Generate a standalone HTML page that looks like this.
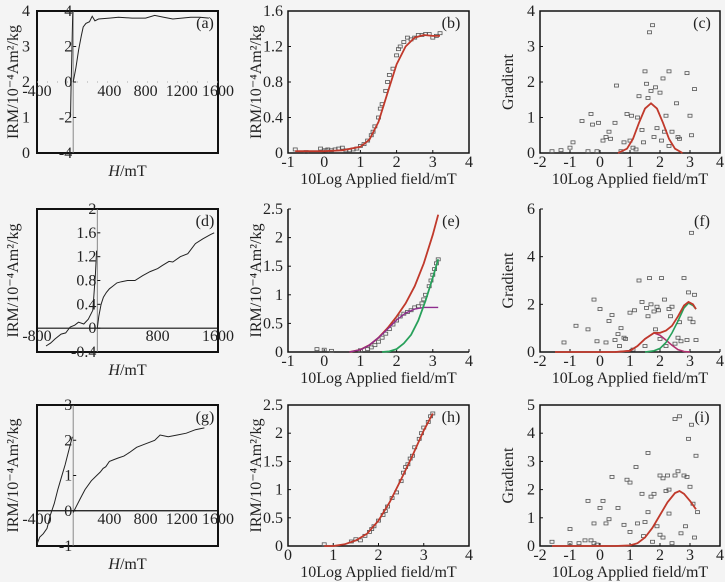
<!DOCTYPE html>
<html><head><meta charset="utf-8">
<style>
body{margin:0;background:#f4f4f4;}
svg{display:block;font-family:"Liberation Serif",serif;}
</style></head>
<body>
<svg id="fig" width="725" height="582" viewBox="0 0 725 582">
<rect width="725" height="582" fill="#f4f4f4"/>
</svg>
<script>
// ---- Panel (a) data ----
const aNegH=[-30,-24,-17,-10,-4];
const aNegM=[-2,-0.5,1.2,2.8,4];
const aPosH=[0,30,60,90,110,140,180,210,240,280,400,500,650,800,900,1000,1100,1200,1300,1400,1500];
const aPosM=[0,0.8,1.8,2.6,3.1,3.3,3.4,3.7,3.45,3.55,3.6,3.65,3.6,3.6,3.75,3.65,3.55,3.6,3.65,3.65,3.6];
const aXTicks=[-400,400,800,1200,1600];
const aYOuter=[0,1,2,3,4];
const aYInner=[-4,-2,0,2,4];
// ---- Panel (d) data ----
const dNegH=[-680,-620,-560,-480,-420,-360,-300,-250,-180,-120,-60,-25,-10];
const dNegM=[-0.3,-0.25,-0.18,-0.1,-0.08,0.02,0.05,0.1,0.07,0.15,0.3,0.9,1.3];
const dPosH=[0,20,50,80,120,160,200,260,320,400,500,600,700,800,860,950,1000,1100,1200,1300,1400,1500,1550];
const dPosM=[0,0.2,0.4,0.52,0.6,0.66,0.7,0.76,0.78,0.8,0.8,0.88,0.95,1.0,1.05,1.12,1.11,1.2,1.25,1.42,1.5,1.57,1.6];
const dXTicks=[-800,800,1600];
const dYInner=[-0.4,0,0.4,0.8,1.2,1.6,2];
// ---- Panel (g) data ----
const gNegH=[-400,-370,-330,-290,-250,-210,-170,-130,-90,-50,-10];
const gNegM=[-0.95,-0.75,-0.65,-0.5,-0.1,0.2,0.6,0.95,1.3,1.7,2.1];
const gPosH=[0,30,80,130,200,260,300,330,360,400,450,500,560,620,700,800,900,960,1050,1150,1250,1350,1450];
const gPosM=[-0.05,0.1,0.35,0.6,0.85,1.0,1.1,1.2,1.25,1.4,1.45,1.5,1.55,1.65,1.8,1.9,2.0,2.15,2.1,2.15,2.2,2.3,2.35];
const gXTicks=[-400,400,800,1200,1600];
const gYInner=[-1,0,1,2,3];
// ---- Panel (b) ----
const bPtX=[-0.8,-0.5,-0.1,0,0.05,0.1,0.2,0.3,0.4,0.5,0.6,0.7,0.8,0.9,1.0,1.1,1.2,1.3,1.35,1.4,1.5,1.55,1.6,1.7,1.75,1.8,1.9,2.0,2.05,2.1,2.2,2.3,2.4,2.5,2.6,2.7,2.8,2.9,3.0,3.1,3.2];
const bPtY=[0.04,0.01,0.05,0.03,0.03,0.04,0.03,0.04,0.05,0.06,0.03,0.03,0.04,0.05,0.08,0.1,0.14,0.2,0.24,0.3,0.4,0.5,0.55,0.7,0.8,0.88,0.95,1.1,1.17,1.2,1.25,1.3,1.28,1.3,1.33,1.33,1.34,1.34,1.3,1.32,1.35];
const bCurveX=[-0.8,0,0.5,1,1.25,1.5,1.75,2,2.25,2.5,2.75,3,3.2];
const bCurveY=[0.02,0.02,0.03,0.07,0.15,0.35,0.68,1.0,1.2,1.3,1.33,1.32,1.32];
const bYTicks=[0,0.4,0.8,1.2,1.6];
const logXTicks=[-1,0,1,2,3,4];
// ---- Panel (c) ----
const cPtX=[-1.6,-1.3,-1.0,-0.9,-0.6,-0.4,-0.3,-0.25,-0.1,-0.05,0.1,0.2,0.3,0.35,0.5,0.55,0.7,0.8,0.9,1.0,1.05,1.1,1.2,1.25,1.3,1.4,1.45,1.5,1.55,1.6,1.65,1.7,1.75,1.8,1.85,1.9,2.0,2.05,2.1,2.15,2.2,2.3,2.3,2.4,2.55,2.6,2.65,2.9,3.0,3.05,3.15];
const cPtY=[0.05,0.08,0.15,0.3,0.9,0.05,1.1,0.8,0.05,0.85,0.35,0.45,0.6,0.4,0.85,1.9,0.05,0.3,1.1,0.35,1.05,0.15,0.1,1.0,1.6,0.65,0.3,2.3,1.95,1.55,3.4,1.75,3.6,0.45,1.85,0.7,1.7,0.35,2.1,0.6,1.05,2.3,0.2,0.6,1.4,0.45,0.4,2.25,1.05,0.5,1.8];
const cCurveX=[0.6,0.9,1.1,1.3,1.5,1.7,1.9,2.1,2.3,2.5,2.75];
const cCurveY=[0,0.12,0.4,0.85,1.25,1.4,1.25,0.85,0.4,0.12,0];
const cYTicks=[0,1,2,3,4];
const gradXTicks=[-2,-1,0,1,2,3,4];
// ---- Panel (e) ----
const ePtX=[-0.2,0,0.2,1.0,1.2,1.3,1.4,1.5,1.6,1.7,1.8,1.9,2.0,2.1,2.2,2.3,2.4,2.5,2.6,2.7,2.75,2.8,2.9,2.95,3.0,3.05,3.1,3.15];
const ePtY=[0.05,0.04,0.02,0.03,0.05,0.08,0.12,0.18,0.25,0.32,0.4,0.48,0.55,0.62,0.67,0.7,0.73,0.78,0.8,0.85,0.92,1.0,1.15,1.25,1.35,1.45,1.55,1.62];
const eRedX=[0.7,1,1.25,1.5,1.75,2,2.25,2.5,2.75,3,3.15];
const eRedY=[0,0.04,0.12,0.25,0.42,0.62,0.85,1.15,1.55,2.05,2.4];
const ePurX=[0.7,1,1.25,1.5,1.75,2,2.25,2.5,2.75,3,3.15];
const ePurY=[0,0.04,0.12,0.25,0.4,0.56,0.68,0.75,0.78,0.78,0.78];
const eGrnX=[1.6,1.8,2,2.2,2.4,2.6,2.8,3,3.15];
const eGrnY=[0,0.01,0.05,0.15,0.3,0.55,0.9,1.3,1.62];
const eYTicks=[0,0.5,1,1.5,2,2.5];
// ---- Panel (f) ----
const fPtX=[-1.2,-0.8,-0.4,-0.2,-0.1,0,0.2,0.3,0.4,0.5,0.6,0.65,0.7,0.8,0.85,1.0,1.1,1.15,1.3,1.4,1.5,1.55,1.6,1.65,1.7,1.8,1.85,1.9,1.95,2.0,2.05,2.15,2.2,2.3,2.35,2.4,2.5,2.6,2.65,2.7,2.8,2.9,2.95,3.0,3.05,3.1,3.15,3.2];
const fPtY=[0.4,1.1,0.95,2.2,0.45,1.8,0.4,1.3,1.55,0.5,0.75,0.25,1.0,0.6,0.55,1.65,0.1,1.75,3.0,2.1,0.25,1.85,1.5,3.1,2.0,1.7,0.95,1.9,1.75,0.55,3.1,2.2,0.25,1.8,1.5,1.9,0.35,0.6,1.25,0.45,3.1,0.5,2.5,1.4,5.0,1.25,2.4,0.5];
const fRedX=[-1.5,0.5,1,1.25,1.5,1.8,2,2.2,2.4,2.6,2.8,2.95,3.1,3.2];
const fRedY=[0,0,0.05,0.25,0.55,0.8,0.8,0.9,1.1,1.5,1.95,2.1,2.0,1.8];
const fPurX=[0.5,1,1.25,1.5,1.8,2,2.2,2.4,2.6,2.8,3.0];
const fPurY=[0,0.05,0.25,0.55,0.8,0.7,0.5,0.28,0.1,0.02,0];
const fGrnX=[1.5,1.8,2,2.2,2.4,2.6,2.8,2.95,3.1,3.2];
const fGrnY=[0,0.05,0.15,0.4,0.8,1.3,1.85,2.05,1.95,1.8];
const fYTicks=[0,2,4,6];
// ---- Panel (h) ----
const hPtX=[0.8,1.4,1.5,1.6,1.7,1.8,1.85,1.9,2.0,2.1,2.15,2.2,2.3,2.4,2.5,2.55,2.6,2.65,2.7,2.75,2.8,2.9,2.95,3.0,3.1,3.15,3.2];
const hPtY=[0.03,0.08,0.12,0.1,0.18,0.25,0.3,0.35,0.45,0.55,0.62,0.7,0.85,0.95,1.15,1.3,1.4,1.45,1.55,1.6,1.75,1.9,2.0,2.1,2.2,2.3,2.35];
const hCurveX=[0.8,1,1.25,1.5,1.75,2,2.25,2.5,2.75,3,3.2];
const hCurveY=[0,0,0.03,0.1,0.22,0.45,0.78,1.18,1.6,2.05,2.35];
const hYTicks=[0,0.5,1,1.5,2,2.5];
const hXTicks=[0,1,2,3,4];
// ---- Panel (i) ----
const iPtX=[-1.6,-1.0,-1.0,-0.7,-0.5,-0.4,-0.3,-0.2,-0.1,0,0.1,-0.2,0.2,0.3,0.4,0.6,0.8,0.9,1.0,1.0,1.2,1.25,1.4,1.45,1.5,1.6,1.6,1.7,1.75,1.8,1.9,2.0,2.0,2.1,2.1,2.2,2.25,2.3,2.3,2.4,2.5,2.5,2.6,2.65,2.7,2.8,2.85,2.9,2.95,3.0,3.05,3.1,3.15,3.2,3.25];
const iPtY=[0.15,0.6,0.1,0.1,0.2,1.6,0.2,0.1,0.05,1.35,1.6,0.8,0.8,0.95,2.45,1.35,0.75,2.35,0.5,2.25,2.8,0.8,1.85,0.35,0.85,3.3,1.2,1.75,0.15,1.85,0.7,2.5,0.4,2.4,0.3,1.95,2.5,2.0,1.15,0.1,2.5,4.5,2.65,4.6,0.45,2.5,0.7,2.45,3.8,2.1,4.3,1.5,0.3,3.2,1.2];
const iCurveX=[-1.6,0.5,1,1.25,1.5,1.75,2,2.25,2.5,2.65,2.8,3,3.2];
const iCurveY=[0,0,0.02,0.1,0.3,0.65,1.1,1.55,1.88,1.95,1.85,1.6,1.3];
const iYTicks=[0,1,2,3,4,5];

const NS='http://www.w3.org/2000/svg';
const svg=document.getElementById('fig');
function mk(tag,attrs,parent){const e=document.createElementNS(NS,tag);for(const k in attrs)e.setAttribute(k,attrs[k]);(parent||svg).appendChild(e);return e;}
function txt(s,x,y,anchor,size,parent){const t=mk('text',{x:x,y:y,'text-anchor':anchor||'middle','font-size':size||15,fill:'#222'},parent);t.textContent=s;return t;}
function scale(d0,d1,r0,r1){return v=>r0+(v-d0)*(r1-r0)/(d1-d0);}
function line(g,X,Y,sx,sy,color,w,name){
  const p=mk('polyline',{points:X.map((v,i)=>sx(v).toFixed(1)+','+sy(Y[i]).toFixed(1)).join(' '),fill:'none',stroke:color,'stroke-width':w},g);
  
  
}
function pts(g,X,Y,sx,sy,name){
  const pg=mk('g',{},g);
  
  
  X.forEach((v,i)=>{const r=mk('rect',{x:sx(v)-2,y:sy(Y[i])-1.5,width:4,height:3,fill:'none',stroke:'#555','stroke-width':0.8},pg);
    
    });
}
const COL=[[37,218],[288,469],[540,720]];
const ROW=[[11,153],[209,352],[405,546]];

function logPanel(name,c,r,xd,yd,xt,yt,ytitle,letter,box){
  const g=mk('g',{});
  
  
  const [x0,x1]=COL[c],[y0,y1]=ROW[r];
  const sx=scale(xd[0],xd[1],x0,x1),sy=scale(yd[0],yd[1],y1,y0);
  if(box){mk('rect',{x:x0,y:y0,width:x1-x0,height:y1-y0,fill:'none',stroke:'#111','stroke-width':1.5},g);}
  else{mk('polyline',{points:`${x0},${y0} ${x0},${y1} ${x1},${y1}`,fill:'none',stroke:'#111','stroke-width':1.5},g);}
  xt.forEach(v=>{mk('line',{x1:sx(v),x2:sx(v),y1:y1,y2:y1-3,stroke:'#111'},g);txt(String(v),sx(v),y1+14,'middle',16,g);});
  yt.forEach(v=>{mk('line',{x1:x0,x2:x0+3,y1:sy(v),y2:sy(v),stroke:'#111'},g);txt(String(v),x0-5,sy(v)+5,'end',16,g);});
  const xtitle=txt('10Log Applied field/mT',(x0+x1)/2,y1+31,'middle',16,g);
  
  
  const yt2=txt(ytitle,0,0,'middle',16,g);
  yt2.setAttribute('transform',`translate(${x0-27},${(y0+y1)/2}) rotate(-90)`);
  
  
  const lt=txt(letter,x1-18,y0+17,'middle',16,g);
  
  
  return {g,sx,sy};
}
const IRM='IRM/10\u207B\u2074Am\u00B2/kg';
let P;
P=logPanel('panel-b',1,0,[-1,4],[0,1.6],logXTicks,bYTicks,IRM,'(b)',true);
pts(P.g,bPtX,bPtY,P.sx,P.sy,'b-points');line(P.g,bCurveX,bCurveY,P.sx,P.sy,'#c0392b',1.8,'b-fit-curve');
P=logPanel('panel-c',2,0,[-2,4],[0,4],gradXTicks,cYTicks,'Gradient','(c)',true);
pts(P.g,cPtX,cPtY,P.sx,P.sy,'c-points');line(P.g,cCurveX,cCurveY,P.sx,P.sy,'#c0392b',1.8,'c-fit-curve');
P=logPanel('panel-e',1,1,[-1,4],[0,2.5],logXTicks,eYTicks,IRM,'(e)',false);
pts(P.g,ePtX,ePtY,P.sx,P.sy,'e-points');
line(P.g,eRedX,eRedY,P.sx,P.sy,'#c0392b',1.8,'e-sum-curve');
line(P.g,ePurX,ePurY,P.sx,P.sy,'#8e2c8e',1.4,'e-component-1');
line(P.g,eGrnX,eGrnY,P.sx,P.sy,'#27a05a',1.8,'e-component-2');
P=logPanel('panel-f',2,1,[-2,4],[0,6],gradXTicks,fYTicks,'Gradient','(f)',false);
pts(P.g,fPtX,fPtY,P.sx,P.sy,'f-points');
line(P.g,fPurX,fPurY,P.sx,P.sy,'#b0306e',1.6,'f-component-1');
line(P.g,fGrnX,fGrnY,P.sx,P.sy,'#27a05a',1.6,'f-component-2');
line(P.g,fRedX,fRedY,P.sx,P.sy,'#c0392b',1.8,'f-sum-curve');
P=logPanel('panel-h',1,2,[0,4],[0,2.5],hXTicks,hYTicks,IRM,'(h)',true);
pts(P.g,hPtX,hPtY,P.sx,P.sy,'h-points');line(P.g,hCurveX,hCurveY,P.sx,P.sy,'#c0392b',1.8,'h-fit-curve');
P=logPanel('panel-i',2,2,[-2,4],[0,5],gradXTicks,iYTicks,'Gradient','(i)',true);
pts(P.g,iPtX,iPtY,P.sx,P.sy,'i-points');line(P.g,iCurveX,iCurveY,P.sx,P.sy,'#c0392b',1.8,'i-fit-curve');

function hPanel(name,r,xd,yd,xt,yti,outer,letter,negH,negM,posH,posM,dotted){
  const g=mk('g',{});
  
  
  const [x0,x1]=COL[0],[y0,y1]=ROW[r];
  const sx=scale(xd[0],xd[1],x0,x1),sy=scale(yd[0],yd[1],y1,y0);
  mk('rect',{x:x0,y:y0,width:x1-x0,height:y1-y0,fill:'none',stroke:'#111','stroke-width':2},g);
  mk('line',{x1:sx(0),x2:sx(0),y1:y0,y2:y1,stroke:'#888','stroke-width':1},g);
  mk('line',{x1:x0,x2:x1,y1:sy(0),y2:sy(0),stroke:dotted?'#aaa':'#111','stroke-width':dotted?1:1.2,'stroke-dasharray':dotted?'1,9':'none'},g);
  xt.forEach(v=>txt(String(v),sx(v),sy(0)+(dotted?14:13),'middle',16,g));
  yti.forEach(v=>{mk('line',{x1:sx(0),x2:sx(0)+3,y1:sy(v),y2:sy(v),stroke:'#111'},g);txt(String(v),sx(0)-1,sy(v)+5,'end',16,g);});
  if(outer){const so=scale(outer[0],outer[outer.length-1],y1,y0);outer.forEach(v=>txt(String(v),x0-7,so(v)+5,'end',16,g));}
  line(g,negH,negM,sx,sy,'#222',1,name+'-negative-branch');
  line(g,posH,posM,sx,sy,'#222',1,name+'-positive-branch');
  const xtitle=mk('text',{x:(x0+x1)/2,y:y1+23,'text-anchor':'middle','font-size':16,fill:'#222'},g);
  xtitle.innerHTML='<tspan font-style="italic">H</tspan>/mT';
  
  
  const yt2=txt(IRM,0,0,'middle',16,g);
  yt2.setAttribute('transform',`translate(18,${(y0+y1)/2}) rotate(-90)`);
  
  
  const lt=txt(letter,x1-13,y0+17,'middle',16,g);
  
  
}
hPanel('panel-a',0,[-400,1600],[-4,4],aXTicks,aYInner,aYOuter,'(a)',aNegH,aNegM,aPosH,aPosM,true);
hPanel('panel-d',1,[-800,1600],[-0.4,2],dXTicks,dYInner,null,'(d)',dNegH,dNegM,dPosH,dPosM,false);
hPanel('panel-g',2,[-400,1600],[-1,3],gXTicks,gYInner,null,'(g)',gNegH,gNegM,gPosH,gPosM,false);
</script>
</body></html>
